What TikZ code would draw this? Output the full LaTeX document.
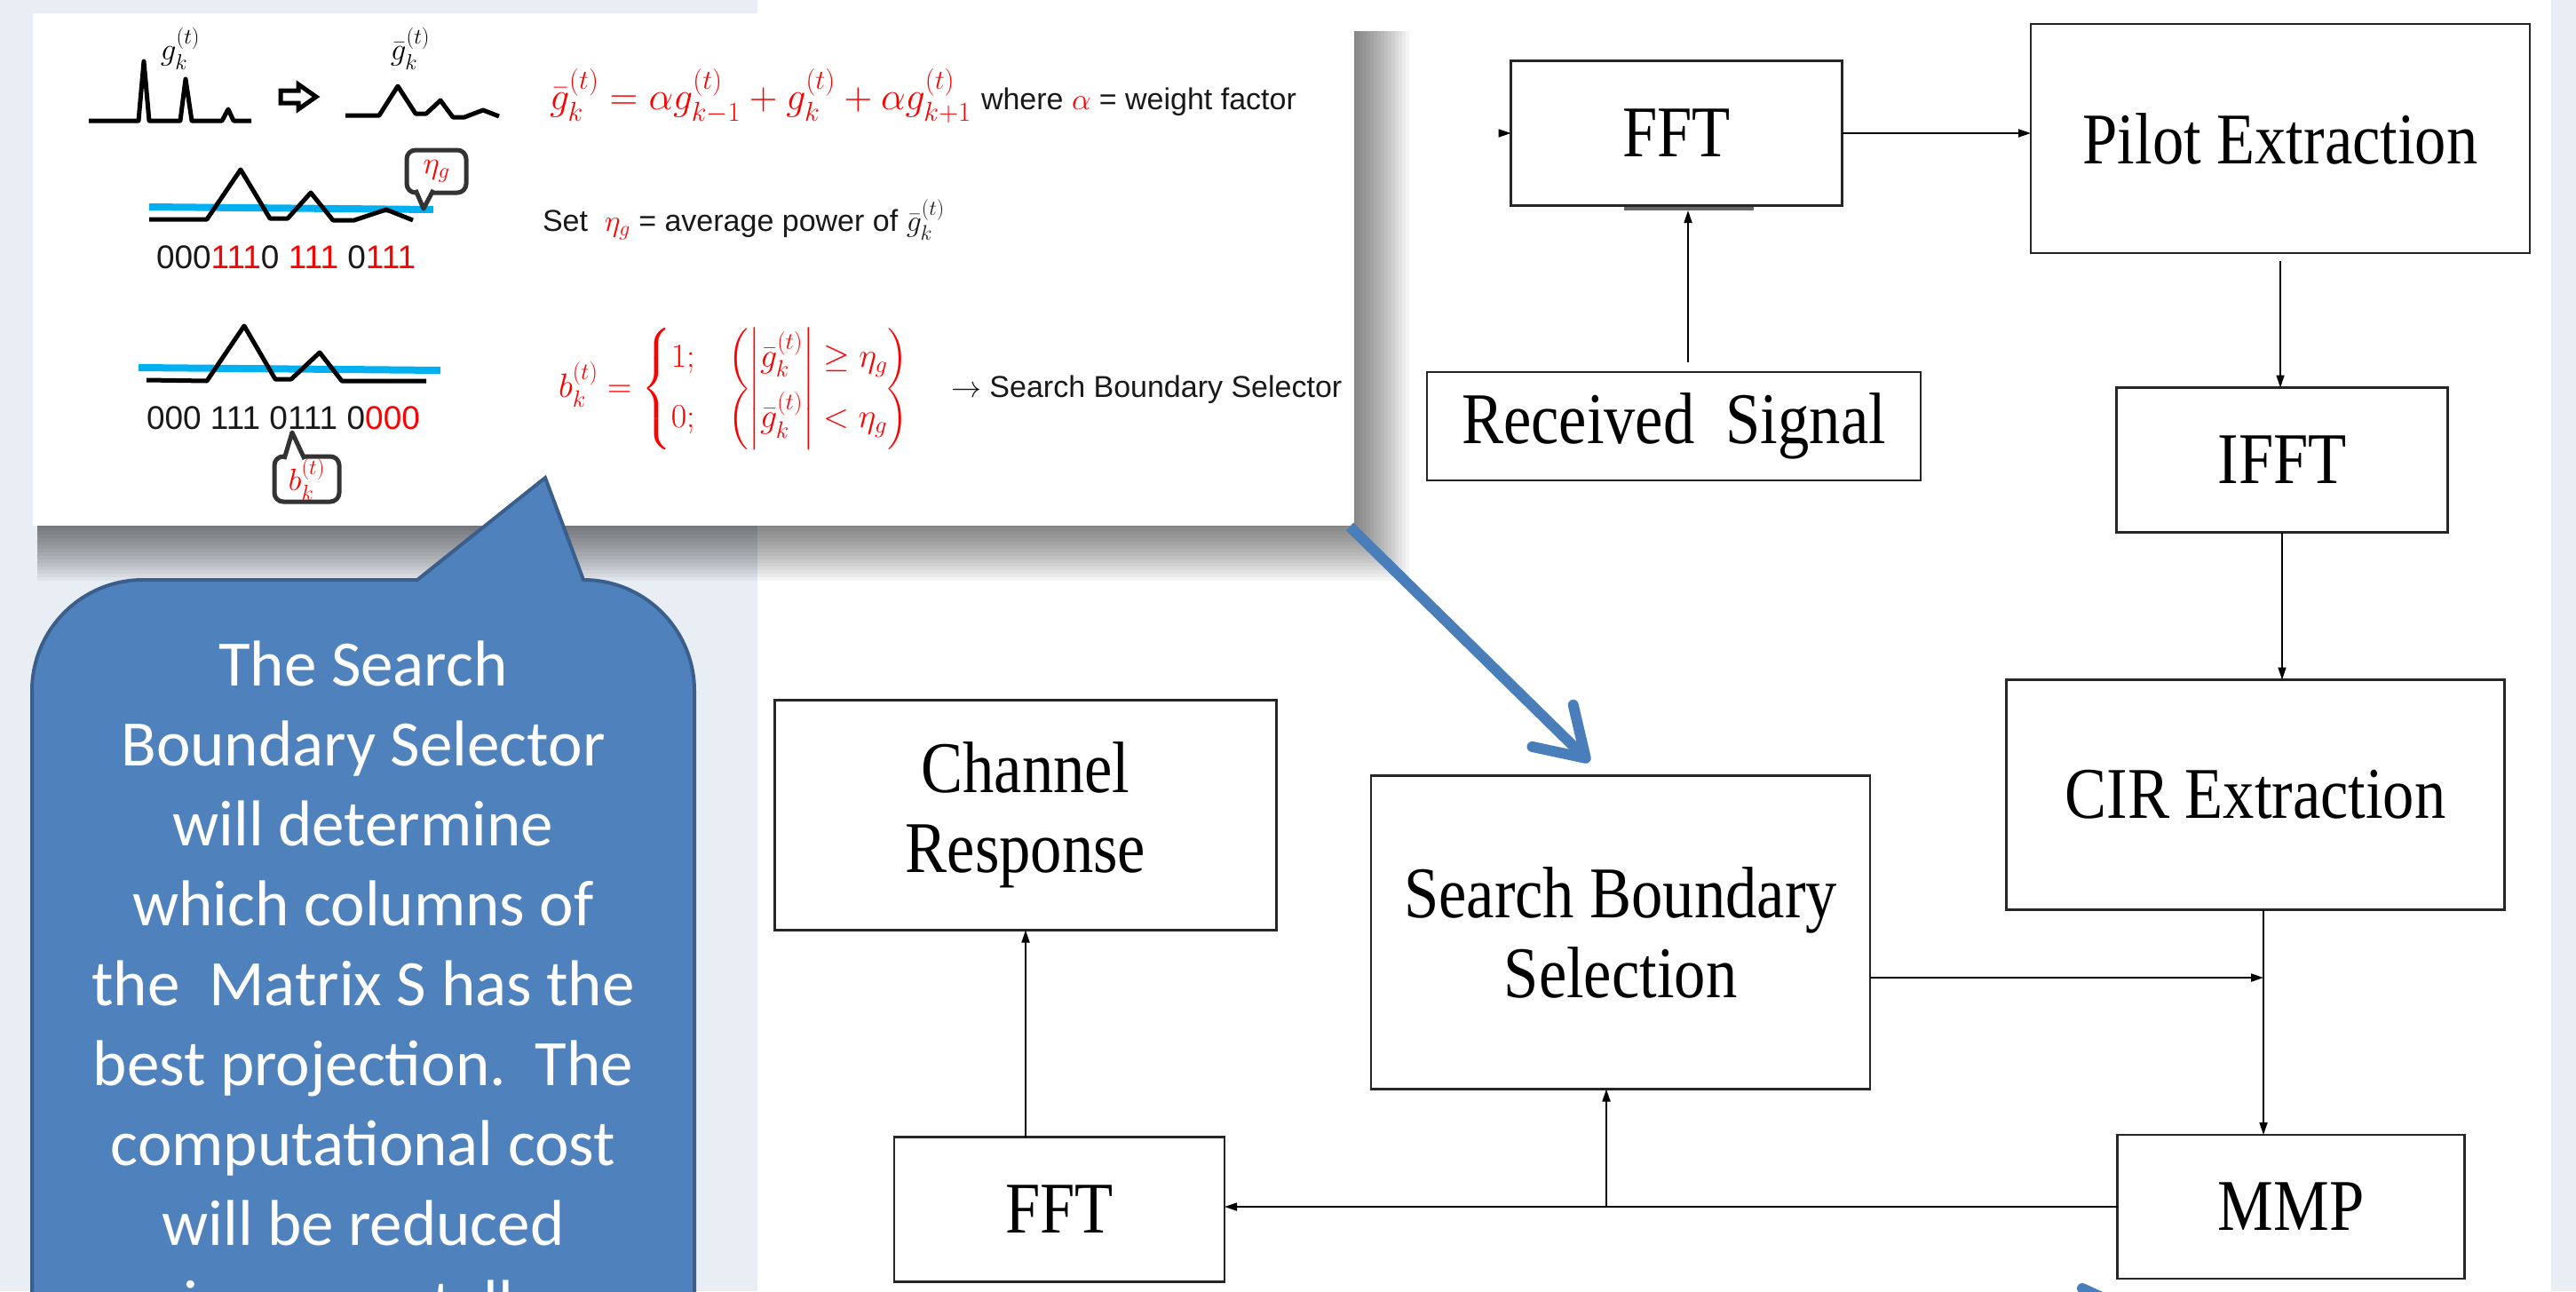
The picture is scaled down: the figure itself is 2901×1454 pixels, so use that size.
\RequirePackage{fix-cm}
\documentclass[tikz,border=0pt]{standalone}
\usepackage{amsmath}
\usepackage{amssymb}
\usepackage{fontspec}
\newfontfamily\boxfont{Liberation Serif}[FakeStretch=0.86]
\newfontfamily\popfont{Liberation Sans}
\newfontfamily\notefont{Carlito}
\usetikzlibrary{positioning, arrows.meta, calc}

\definecolor{panel}{HTML}{E9EDF4}
\definecolor{callout}{HTML}{4F81BD}
\definecolor{calloutedge}{HTML}{3A5F8C}
\definecolor{skyline}{HTML}{00B0F0}
\definecolor{arrowblue}{HTML}{4A7EBB}
\definecolor{bubbleedge}{HTML}{333333}

\tikzset{
every node/.style={inner sep=0pt, outer sep=0pt},
block/.style={draw=black!85, line width=2.6pt, fill=white, align=center, font=\boxfont\fontsize{82}{90}\selectfont},
flow/.style={line width=1.8pt, -{Triangle[length=14pt, width=9pt]}},
trace/.style={line width=5pt, line join=round},
level/.style={line width=8pt, draw=skyline},
poptext/.style={text=black!90, font=\popfont\fontsize{34}{40}\selectfont},
bitstext/.style={text=black!90, font=\popfont\fontsize{37}{40}\selectfont},
popmath/.style={text=red, font=\fontsize{44}{52}\selectfont},
caselaw/.style={text=red, font=\fontsize{38}{46}\selectfont},
tapmath/.style={font=\fontsize{35}{38}\selectfont},
bubble/.style={draw=bubbleedge, line width=5pt, rounded corners=10pt, fill=white, text=red, font=\fontsize{35}{38}\selectfont},
notetext/.style={text=white, font=\notefont\fontsize{73}{90}\selectfont},
bluearrow/.style={draw=arrowblue, line width=12pt, -{Straight Barb[round, length=52pt, width=66pt]}},
}

\begin{document}
\begin{tikzpicture}[x=1pt, y=-1pt]
    \useasboundingbox (0,0) rectangle (2901,1454);
    \clip (0,0) rectangle (2901,1454);

    % backdrop
    \fill[panel] (0,0) rectangle (853,1454);
    \fill[panel] (2873,0) rectangle (2901,1454);

    % popup with soft shadow
    \foreach \d in {2,6,...,62}
        \fill[black, opacity=0.04] (42,35) rectangle (1525+\d,592+\d);
    \node[fill=white, minimum width=1488pt, minimum height=577pt] (popup) at (781,303.5) {};

    % row 1: raw and smoothed taps
    \draw[trace] (100,136) -- (156,136) -- (162,69) -- (168,136) -- (203,136) -- (209,89)
        -- (216,136) -- (250,136) -- (257,123) -- (263,136) -- (283,136);
    \node[tapmath] (rawlab) at (203,55) {$g_k^{(t)}$};
    \filldraw[fill=white, line width=5pt, line join=miter] (316,102) -- (336,102) -- (336,95)
        -- (356,109) -- (336,123) -- (336,116) -- (316,116) -- cycle;
    \draw[trace] (389,130) -- (427,130) -- (448,97) -- (468,128) -- (480,128) -- (496,113)
        -- (510,132) -- (523,132) -- (544,124) -- (562,131);
    \node[tapmath] (smoothlab) at (462,55) {$\bar{g}_k^{(t)}$};
    \node[popmath, anchor=base west] (smoothrule) at (619,123)
        {$\bar{g}_k^{(t)} = \alpha g_{k-1}^{(t)} + g_k^{(t)} + \alpha g_{k+1}^{(t)}$};
    \node[poptext, anchor=base west] (weight) at (1105,123)
        {where \textcolor{red}{$\alpha$} = weight factor};

    % row 2: threshold
    \draw[level] (168,233) -- (488,236);
    \draw[trace] (168,247) -- (233,247) -- (271,191) -- (304,246) -- (324,246) -- (350,217)
        -- (375,248) -- (399,248) -- (435,236) -- (465,248);
    \node[bubble, minimum width=67pt, minimum height=48pt] (etabubble) at (491.5,193) {$\eta_g$};
    \filldraw[fill=white, draw=bubbleedge, line width=5pt, line join=round]
        (468,214) -- (477,235) -- (488,214);
    \node[bitstext, anchor=base west] (bits1) at (176,302)
        {000\textcolor{red}{111}0 \textcolor{red}{111} 0\textcolor{red}{111}};
    \node[poptext, anchor=base west] (setpow) at (611,260)
        {Set \ \textcolor{red}{$\eta_g$} = average power of $\bar{g}_k^{(t)}$};

    % row 3: boundary bits
    \draw[level] (156,414) -- (496,417);
    \draw[trace] (165,428) -- (233,429) -- (275,367) -- (310,427) -- (328,427) -- (360,397)
        -- (385,429) -- (480,429);
    \node[bitstext, anchor=base west] (bits2) at (165,483)
        {000 111 0111 0\textcolor{red}{000}};
    \node[bubble, minimum width=73pt, minimum height=51pt] (bbubble) at (345.5,539.5) {$b_k^{(t)}$};
    \filldraw[fill=white, draw=bubbleedge, line width=5pt, line join=round]
        (320,517) -- (329,487) -- (343,517);
    \node[caselaw, anchor=west] (bitrule) at (629,438)
        {$b_k^{(t)} = \begin{cases} 1; & \left(\left|\bar{g}_k^{(t)}\right| \geq \eta_g\right) \\
         0; & \left(\left|\bar{g}_k^{(t)}\right| < \eta_g\right) \end{cases}$};
    \node[poptext, anchor=base west] (tosel) at (1071,447) {$\rightarrow$ Search Boundary Selector};

    % callout
    \filldraw[fill=callout, draw=calloutedge, line width=4pt] (36,1500) -- (36,778)
        .. controls (36,709) and (92,653) .. (161,653) -- (470,653) -- (614,538) -- (657,653)
        .. controls (726,653) and (782,709) .. (782,778) -- (782,1500);
    \foreach \txt [count=\i] in {The Search, Boundary Selector, will determine,
        which columns of, the\ \ Matrix S has the, best projection.\ \ The,
        computational cost, will be reduced, incrementally}
        \node[notetext, anchor=base] (note\i) at (409,{772+90*(\i-1)}) {\txt};

    % block diagram
    \node[block, minimum width=373pt, minimum height=163pt] (fftin) at (1888,150) {FFT};
    \node[block, minimum width=562pt, minimum height=258pt] (pilot) at (2568,156) {Pilot Extraction};
    \node[block, minimum width=556pt, minimum height=122pt] (rx) at (1885,480) {Received~~Signal};
    \node[block, minimum width=373pt, minimum height=163pt] (ifft) at (2570,518) {IFFT};
    \node[block, minimum width=561pt, minimum height=259pt] (cir) at (2540,895) {CIR Extraction};
    \node[block, minimum width=565pt, minimum height=259pt] (chan) at (1155,918) {Channel\\Response};
    \node[block, minimum width=562pt, minimum height=353pt] (sbs) at (1825,1050) {Search Boundary\\Selection};
    \node[block, minimum width=391pt, minimum height=162pt] (mmp) at (2580,1359) {MMP};
    \node[block, minimum width=372pt, minimum height=163pt] (fftout) at (1193,1362) {FFT};

    \coordinate (feed) at (1688,150);
    \coordinate (barmid) at (1901,237);
    \coordinate (rxtop) at ($(rx.north)+(16,-11)$);
    \coordinate (tap) at ($(cir.south)+(9,0)$);
    \coordinate (sbsout) at ($(sbs.east)+(0,51)$);
    \coordinate (branch) at ($(sbs.south)+(-16,0)$);

    \draw[line width=4pt, black!60] (1829,235) -- (1975,235);
    \draw[flow] (feed) -- (feed -| fftin.west);
    \draw[flow] (fftin.east) -- (fftin.east -| pilot.west);
    \draw[flow] (rxtop) -- (rxtop |- barmid);
    \draw[flow] ($(pilot.south)+(0,9)$) -- (pilot.south |- ifft.north);
    \draw[flow] (ifft.south) -- (ifft.south |- cir.north);
    \draw[flow] (tap) -- (tap |- mmp.north);
    \draw[flow] (sbsout) -- (sbsout -| tap);
    \draw[flow] (mmp.west) -- (mmp.west -| fftout.east);
    \draw[flow] (branch |- mmp.west) -- (branch);
    \draw[flow] (fftout.north -| chan.south) -- (chan.south);

    % blue pointers
    \coordinate (hinttip) at (1790,858);
    \coordinate (hint2) at (2345,1451);
    \coordinate (hint2end) at (2430,1490);
    \draw[bluearrow] ($(popup.south east)+(-5,1)$) -- (hinttip);
    \draw[draw=arrowblue, line width=12pt, line cap=round] (hint2) -- (hint2end);

\end{tikzpicture}
\end{document}
